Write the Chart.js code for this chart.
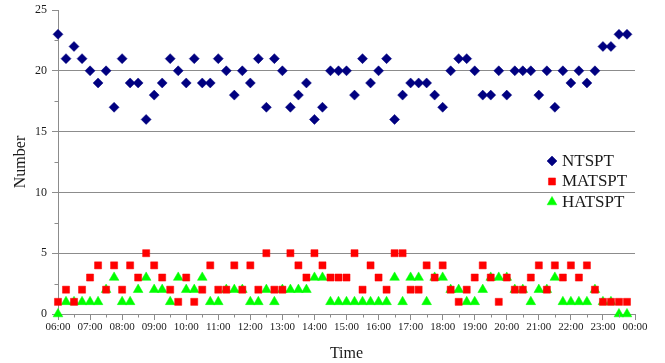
<!DOCTYPE html>
<html><head><meta charset="utf-8">
<style>html,body{margin:0;padding:0;background:#fff;}#wrap{width:665px;height:363px;position:relative;}</style>
<script src="https://cdn.jsdelivr.net/npm/chart.js"></script>
</head><body><div id="wrap"><canvas id="c" width="665" height="363"></canvas></div>
<script>
// Tick labels (every hour, 06:00 to 00:00); data are 15-minute slots 06:00 .. 23:45
const hourLabels = ["06:00","07:00","08:00","09:00","10:00","11:00","12:00","13:00","14:00","15:00","16:00","17:00","18:00","19:00","20:00","21:00","22:00","23:00","00:00"];
const seriesNames = ["NTSPT","MATSPT","HATSPT"];
const ntspt = [23,21,22,21,20,19,20,17,21,19,19,16,18,19,21,20,19,21,19,19,21,20,18,20,
               19,21,17,21,20,17,18,19,16,17,20,20,20,18,21,19,20,21,16,18,19,19,19,18,
               17,20,21,21,20,18,18,20,18,20,20,20,18,20,17,20,19,20,19,20,22,22,23,23];
const matspt = [1,2,1,2,3,4,2,4,2,4,3,5,4,3,2,1,3,1,2,4,2,2,4,2,
                4,2,5,2,2,5,4,3,5,4,3,3,3,5,2,4,3,2,5,5,2,2,4,3,
                4,2,1,2,3,4,3,1,3,2,2,3,4,2,4,3,4,3,4,2,1,1,1,1];
const hatspt = [0,1,1,1,1,1,2,3,1,1,2,3,2,2,1,3,2,2,3,1,1,2,2,2,
                1,1,2,1,2,2,2,2,3,3,1,1,1,1,1,1,1,1,3,1,3,3,1,3,
                3,2,2,1,1,2,3,3,3,2,2,1,2,2,3,1,1,1,1,2,1,1,0,0];

const FONT = "'Liberation Serif','Times New Roman',serif";
const GRID = '#8c8c8c';
const TXT = '#1a1a1a';

function toPoints(arr){ return arr.map((v,i)=>({x:i, y:v})); }

const styles = [
  {pointStyle:'rectRot', radius:5, color:'#000080'},
  {pointStyle:'rect', radius:5, color:'#ff0000'},
  {pointStyle:'triangle', radius:5.6, color:'#00ff00'}
];
const series = [ntspt, matspt, hatspt];

const datasets = series.map((arr,k)=>({
  label: seriesNames[k],
  data: toPoints(arr),
  showLine:false,
  pointStyle: styles[k].pointStyle,
  pointRadius: styles[k].radius,
  pointHoverRadius: styles[k].radius,
  backgroundColor: styles[k].color,
  borderColor: styles[k].color,
  pointBorderWidth: 0.5,
  clip: false
}));

const minorTicks = {
  id:'minorTicks',
  afterDraw(chart){
    const ctx = chart.ctx, xs = chart.scales.x, ys = chart.scales.y;
    ctx.save();
    ctx.strokeStyle = GRID; ctx.lineWidth = 1;
    ctx.beginPath();
    for (let v = 2; v < 72; v += 4){
      const px = Math.round(xs.getPixelForValue(v)) + 0.5;
      ctx.moveTo(px, ys.bottom); ctx.lineTo(px, ys.bottom + 3.5);
    }
    for (let v = 2.5; v < 25; v += 5){
      const py = Math.round(ys.getPixelForValue(v)) + 0.5;
      ctx.moveTo(xs.left - 3.5, py); ctx.lineTo(xs.left, py);
    }
    ctx.stroke();
    ctx.restore();
  }
};

const legendPlugin = {
  id:'innerLegend',
  afterDraw(chart){
    const ctx = chart.ctx;
    const x0 = 552, ys = [161, 181.5, 202];
    ctx.save();
    chart.data.datasets.forEach((ds,k)=>{
      const opts = {pointStyle: ds.pointStyle, radius: ds.pointRadius, borderWidth: 0.5, rotation: 0};
      ctx.fillStyle = ds.backgroundColor; ctx.strokeStyle = ds.borderColor; ctx.lineWidth = 0.5;
      Chart.helpers.drawPoint(ctx, opts, x0, ys[k]);
      ctx.fillStyle = TXT;
      ctx.font = "17px " + FONT;
      ctx.textAlign = 'left'; ctx.textBaseline = 'middle';
      ctx.fillText(ds.label, x0 + 10, ys[k] + 0.5);
    });
    ctx.restore();
  }
};

new Chart(document.getElementById('c'), {
  type:'scatter',
  data:{datasets},
  plugins:[minorTicks, legendPlugin],
  options:{
    responsive:false,
    animation:false,
    devicePixelRatio:1,
    layout:{padding:{top:10,right:30,left:0,bottom:0}},
    plugins:{legend:{display:false}, tooltip:{enabled:false}},
    scales:{
      x:{
        type:'linear', min:0, max:72,
        afterFit(s){ s.height = 49; s.paddingLeft = 0; s.paddingRight = 0; s.paddingTop = 0; s.paddingBottom = 0; },
        border:{color:GRID, width:1},
        grid:{drawOnChartArea:false, color:GRID, tickColor:GRID, tickLength:6},
        ticks:{stepSize:4, autoSkip:false, maxRotation:0, padding:1, color:TXT,
               font:{family:FONT, size:11},
               callback:(v)=> hourLabels[v/4]},
        title:{display:true, text:'Time', color:TXT, font:{family:FONT, size:16}, padding:{top:0,bottom:0}}
      },
      y:{
        min:0, max:25,
        afterFit(s){ s.width = 58; s.paddingTop = 0; s.paddingBottom = 0; s.paddingLeft = 0; s.paddingRight = 0; },
        border:{color:GRID, width:1},
        grid:{color:(c)=> c.tick && c.tick.value === 25 ? 'rgba(0,0,0,0)' : GRID, tickColor:GRID, tickLength:6},
        ticks:{stepSize:5, padding:5, color:TXT, font:{family:FONT, size:12}},
        title:{display:true, text:'Number', color:TXT, font:{family:FONT, size:16}, align:'center', padding:{top:11,bottom:0}}
      }
    }
  }
});
</script></body></html>
